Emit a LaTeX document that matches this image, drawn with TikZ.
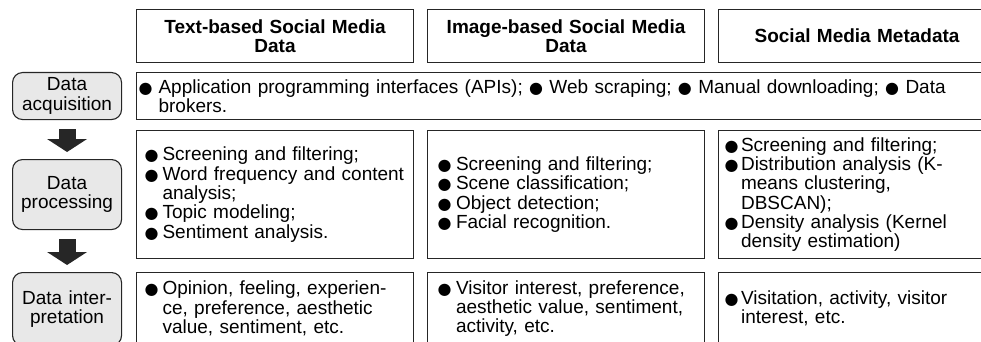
\documentclass[tikz,border=0pt]{standalone}
\usepackage{fontspec}
\setmainfont{Liberation Sans}
\newfontfamily\symfont{DejaVu Sans}
\usetikzlibrary{positioning,calc,arrows.meta}

\newlength\bulw
\setlength\bulw{18pt}
\newcommand\bdot{{\symfont\fontsize{16}{16}\selectfont ●}}
\newcommand\bul{\makebox[\bulw][l]{\bdot}}
\newcommand\ind{\hspace*{\bulw}}

\begin{document}
\begin{tikzpicture}[x=1pt,y=-1pt,
	every node/.style={font=\fontsize{19}{19.3}\selectfont},
	head/.style={draw=black!85, line width=1.1pt, anchor=north west, align=center,
		text width=265pt, inner xsep=6pt, minimum height=53pt,
		font=\fontsize{19}{19.3}\selectfont\bfseries},
	stage/.style={draw=black!85, line width=1.1pt, fill=black!9, rounded corners=10pt,
		anchor=north west, align=center, text width=101pt, inner xsep=4pt},
	cell/.style 2 args={draw=black!85, line width=1.1pt, anchor=north west, align=left,
		text width=271pt, inner xsep=3pt, inner ysep=0pt,
		execute at begin node={\leftskip=#1\setlength\bulw{#2}}},
	downarr/.style={line width=17pt, black!85, shorten <=9pt, shorten >=7pt,
		-{Triangle[length=13pt, width=40pt, line width=0pt]}}]
	\useasboundingbox (0,0) rectangle (981,342);
	% column heads
	\node[head] (hd1) at (136,9) {Text-based Social Media\\Data};
	\node[head] (hd2) at (427,9) {Image-based Social Media\\Data};
	\node[head] (hd3) at (718,9) {Social Media Metadata};
	% acquisition
	\node[stage, minimum height=47pt] (acq) at (12,72) {Data\\acquisition};
	\node[cell={0pt}{20pt}, text width=855pt, inner xsep=2pt, minimum height=47pt] (acqtxt) at (136,72)
		{\bul Application programming interfaces (APIs); \bdot{} Web scraping; \bdot{} Manual downloading; \bdot{} Data\\
		\ind brokers.};
	% processing
	\node[stage, minimum height=70pt] (proc) at (12,159) {Data\\processing};
	\node[cell={5pt}{18pt}, minimum height=128pt] (proc1) at (136,130)
		{\bul Screening and filtering;\\ \bul Word frequency and content\\ \ind analysis;\\
		\bul Topic modeling;\\ \bul Sentiment analysis.};
	\node[cell={7pt}{18.5pt}, minimum height=128pt] (proc2) at (427,130)
		{\bul Screening and filtering;\\ \bul Scene classification;\\
		\bul Object detection;\\ \bul Facial recognition.};
	\node[cell={3pt}{16.5pt}, minimum height=128pt] (proc3) at (718,130)
		{\bul Screening and filtering;\\ \bul Distribution analysis (K-\\ \ind means clustering,\\
		\ind DBSCAN);\\ \bul Density analysis (Kernel\\ \ind density estimation)};
	% interpretation
	\node[stage, minimum height=73pt] (intp) at (12,272) {Data inter-\\pretation};
	\node[cell={5pt}{18pt}, minimum height=72pt] (intp1) at (136,272)
		{\bul Opinion, feeling, experien-\\ \ind ce, preference, aesthetic\\ \ind value, sentiment, etc.};
	\node[cell={7pt}{18.5pt}, minimum height=72pt] (intp2) at (427,272)
		{\bul Visitor interest, preference,\\ \ind aesthetic value, sentiment,\\ \ind activity, etc.};
	\node[cell={3pt}{16.5pt}, minimum height=72pt] (intp3) at (718,272)
		{\bul Visitation, activity, visitor\\ \ind interest, etc.};
	% flow
	\draw[downarr] (acq.south) -- (proc.north);
	\draw[downarr] (proc.south) -- (intp.north);
\end{tikzpicture}
\end{document}
